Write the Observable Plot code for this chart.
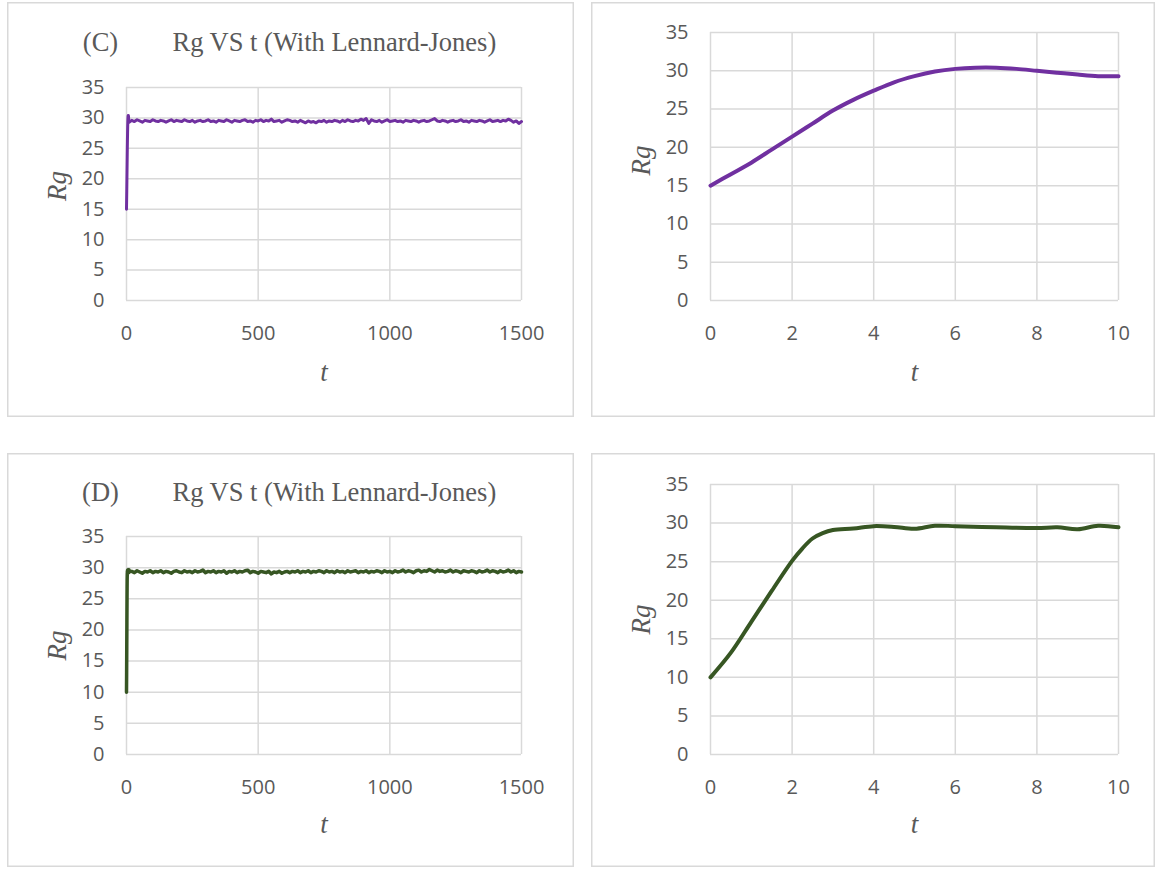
<!DOCTYPE html>
<html>
<head>
<meta charset="utf-8">
<script src="https://cdn.jsdelivr.net/npm/d3@7"></script>
<script src="https://cdn.jsdelivr.net/npm/@observablehq/plot@0.6"></script>
<style>
  html, body { margin: 0; padding: 0; background: #fff; }
  #root { position: relative; width: 1157px; height: 869px; background: #fff; overflow: hidden; }
  .panel { position: absolute; background: #fff; box-shadow: inset 0 0 0 1.5px #d9d9d9; }
  .panel svg { position: absolute; left: 0; top: 0; background: transparent !important; }
</style>
</head>
<body>
<div id="root"></div>
<script>
// ---------- data ----------
const yTicks = [0, 5, 10, 15, 20, 25, 30, 35];
const xTicksLong = [0, 500, 1000, 1500];
const xTicksShort = [0, 2, 4, 6, 8, 10];

// zoomed first 10 time units (right panels)
const tShortC = [0, 0.5, 1, 1.5, 2, 2.5, 3, 3.5, 4, 4.5, 5, 5.5, 6, 6.5, 7, 7.5, 8, 8.5, 9, 9.5, 10];
const rgShortC = [15.0, 16.5, 18.0, 19.7, 21.4, 23.1, 24.8, 26.2, 27.4, 28.5, 29.3, 29.9, 30.25, 30.4, 30.4, 30.25, 30.0, 29.75, 29.5, 29.3, 29.3];

const tShortD = [0, 0.5, 1, 1.5, 2, 2.25, 2.5, 2.75, 3, 3.5, 4, 4.5, 5, 5.5, 6, 7, 8, 8.5, 9, 9.5, 10];
const rgShortD = [10.0, 13.2, 17.2, 21.2, 25.1, 26.7, 28.0, 28.7, 29.1, 29.3, 29.6, 29.5, 29.25, 29.65, 29.6, 29.45, 29.35, 29.45, 29.2, 29.65, 29.45];

// long runs, sampled every 10 time units from t = 20 to t = 1500
const longStart = 20, longStep = 10;
const rgLongC = [
  29.6,29.4,29.7,29.5,29.3,29.6,29.5,29.4,29.7,29.5,
  29.4,29.6,29.5,29.3,29.5,29.7,29.4,29.6,29.5,29.4,
  29.7,29.5,29.4,29.6,29.3,29.5,29.6,29.4,29.5,29.7,
  29.4,29.5,29.3,29.6,29.5,29.4,29.7,29.5,29.3,29.6,
  29.5,29.4,29.6,29.7,29.4,29.5,29.3,29.6,29.5,29.7,
  29.4,29.6,29.5,29.8,29.4,29.5,29.6,29.3,29.5,29.7,
  29.6,29.4,29.5,29.3,29.6,29.4,29.2,29.5,29.3,29.4,
  29.2,29.5,29.4,29.6,29.3,29.5,29.4,29.6,29.5,29.3,
  29.6,29.4,29.7,29.5,29.4,29.6,29.5,29.8,29.6,29.9,
  29.1,29.7,29.5,29.4,29.6,29.3,29.5,29.7,29.4,29.5,
  29.6,29.4,29.5,29.3,29.6,29.5,29.4,29.6,29.5,29.3,
  29.5,29.6,29.4,29.5,29.7,29.9,29.5,29.4,29.6,29.5,
  29.3,29.5,29.6,29.4,29.5,29.7,29.4,29.5,29.3,29.6,
  29.5,29.4,29.6,29.5,29.3,29.5,29.7,29.4,29.5,29.6,
  29.4,29.6,29.5,29.8,29.6,29.3,29.5,29.1,29.4
];
const rgLongD = [
  29.4,29.2,29.5,29.3,29.1,29.4,29.3,29.5,29.2,29.4,
  29.3,29.5,29.2,29.4,29.3,29.1,29.4,29.5,29.3,29.2,
  29.5,29.3,29.4,29.2,29.5,29.3,29.4,29.6,29.2,29.4,
  29.3,29.5,29.2,29.4,29.3,29.5,29.1,29.4,29.3,29.5,
  29.2,29.4,29.3,29.5,29.6,29.2,29.4,29.3,29.1,29.4,
  29.3,29.2,29.4,29.0,29.3,29.2,29.4,29.1,29.3,29.4,
  29.2,29.4,29.3,29.5,29.2,29.4,29.3,29.5,29.2,29.4,
  29.3,29.5,29.4,29.2,29.5,29.3,29.4,29.2,29.5,29.3,
  29.4,29.2,29.5,29.3,29.4,29.5,29.2,29.4,29.3,29.5,
  29.2,29.4,29.3,29.5,29.4,29.2,29.5,29.3,29.4,29.2,
  29.5,29.3,29.4,29.6,29.3,29.5,29.4,29.2,29.5,29.6,
  29.3,29.5,29.4,29.7,29.5,29.3,29.6,29.4,29.5,29.3,
  29.4,29.6,29.3,29.5,29.4,29.2,29.5,29.4,29.3,29.5,
  29.4,29.2,29.5,29.3,29.4,29.6,29.3,29.5,29.4,29.2,
  29.5,29.3,29.4,29.6,29.3,29.5,29.2,29.4,29.3
];

const colorC = "#7030a0";
const colorD = "#375623";

// ---------- build tables ----------
const shortC = tShortC.map((t, i) => ({t, rg: rgShortC[i]}));
const shortD = tShortD.map((t, i) => ({t, rg: rgShortD[i]}));
const longC = shortC.concat(rgLongC.map((rg, i) => ({t: longStart + i * longStep, rg})));
const longD = shortD.concat(rgLongD.map((rg, i) => ({t: longStart + i * longStep, rg})));

const textGrey = "#595959";
const gridGrey = "#d9d9d9";
const serif = "'Liberation Serif', 'Times New Roman', serif";
const sans = "'Open Sans', sans-serif";
const plain = d => String(d);

function panel(o) {
  const div = document.createElement("div");
  div.className = "panel";
  Object.assign(div.style, {left: o.left + "px", top: o.top + "px", width: o.w + "px", height: o.h + "px"});
  const marks = [
    Plot.gridX(o.xTicks, {stroke: gridGrey, strokeOpacity: 1, strokeWidth: 1.5}),
    Plot.gridY(yTicks, {stroke: gridGrey, strokeOpacity: 1, strokeWidth: 1.5}),
    Plot.axisX(o.xTicks, {tickSize: 0, tickPadding: 25, tickFormat: plain, label: null, fill: textGrey, fontSize: 20, fontFamily: sans}),
    Plot.axisY(yTicks, {tickSize: 0, tickPadding: 22, tickFormat: plain, label: null, fill: textGrey, fontSize: 20, fontFamily: sans}),
    Plot.line(o.data, {x: "t", y: "rg", stroke: o.color, strokeWidth: o.sw, curve: o.curve, strokeLinejoin: "round"}),
    Plot.text(["t"], {frameAnchor: "bottom", dy: o.tdy, text: d => d, lineAnchor: "middle", fontFamily: serif, fontStyle: "italic", fontSize: 27, fill: textGrey}),
    Plot.text(["Rg"], {frameAnchor: "left", dx: -69, dy: o.rgdy, text: d => d, rotate: -90, textAnchor: "middle", lineAnchor: "middle", fontFamily: serif, fontStyle: "italic", fontSize: 27, fill: textGrey})
  ];
  if (o.label) {
    marks.push(
      Plot.text([o.label], {frameAnchor: "top-left", dx: o.labDx, dy: o.titleDy, text: d => d, textAnchor: "middle", lineAnchor: "middle", fontFamily: serif, fontSize: 26.5, fill: textGrey}),
      Plot.text([o.title], {frameAnchor: "top-left", dx: o.titleDx, dy: o.titleDy, text: d => d, textAnchor: "start", lineAnchor: "middle", fontFamily: serif, fontSize: 26.5, fill: textGrey})
    );
  }
  const chart = Plot.plot({
    width: o.w, height: o.h,
    marginLeft: o.mL, marginRight: o.mR, marginTop: o.mT, marginBottom: o.mB,
    x: {domain: o.xDomain},
    y: {domain: [0, 35]},
    style: {background: "transparent", overflow: "visible", fontFamily: sans},
    marks
  });
  div.appendChild(chart);
  document.getElementById("root").appendChild(div);
}

panel({left: 7, top: 2, w: 567, h: 415, mL: 119, mR: 53, mT: 85, mB: 117,
  xDomain: [0, 1500], xTicks: xTicksLong, data: longC, color: colorC, sw: 3, curve: "linear",
  tdy: 72, rgdy: -8, label: "(C)", title: "Rg VS t (With Lennard-Jones)", labDx: -26, titleDx: 46, titleDy: -45});
panel({left: 591, top: 2, w: 564, h: 415, mL: 119, mR: 37, mT: 30, mB: 117,
  xDomain: [0, 10], xTicks: xTicksShort, data: shortC, color: colorC, sw: 4, curve: "catmull-rom",
  tdy: 72, rgdy: -6});
panel({left: 7, top: 453, w: 567, h: 414, mL: 119, mR: 53, mT: 83, mB: 113,
  xDomain: [0, 1500], xTicks: xTicksLong, data: longD, color: colorD, sw: 3.5, curve: "linear",
  tdy: 70, rgdy: 0, label: "(D)", title: "Rg VS t (With Lennard-Jones)", labDx: -26, titleDx: 46, titleDy: -44});
panel({left: 591, top: 453, w: 564, h: 414, mL: 119, mR: 37, mT: 31, mB: 113,
  xDomain: [0, 10], xTicks: xTicksShort, data: shortD, color: colorD, sw: 4, curve: "catmull-rom",
  tdy: 70, rgdy: 0});
</script>
</body>
</html>
